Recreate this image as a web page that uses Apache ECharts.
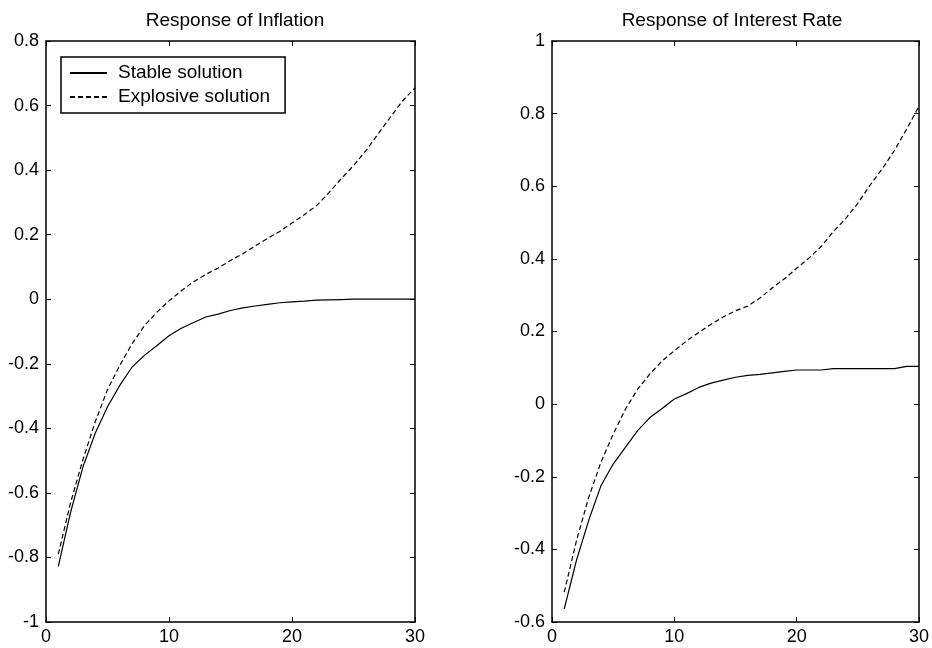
<!DOCTYPE html>
<html>
<head>
<meta charset="utf-8">
<script src="https://cdn.jsdelivr.net/npm/echarts@6/dist/echarts.min.js"></script>
<style>
  html, body { margin: 0; padding: 0; background: #fff; }
  #chart { width: 932px; height: 648px; }
</style>
</head>
<body>
<div id="chart"></div>
<script>
// periods after the shock
var periods = [1, 2, 3, 4, 5, 6, 7, 8, 9, 10, 11, 12, 13, 14, 15,
  16, 17, 18, 19, 20, 21, 22, 23, 24, 25, 26, 27, 28, 29, 30];

// response of inflation
var inflStable = [-0.828, -0.66, -0.52, -0.415, -0.333, -0.267, -0.21, -0.174, -0.144, -0.113,
  -0.09, -0.072, -0.055, -0.046, -0.035, -0.027, -0.021, -0.016, -0.011, -0.008,
  -0.006, -0.003, -0.002, -0.001, 0, 0, 0, 0, 0, 0];
var inflExplosive = [-0.79, -0.63, -0.497, -0.38, -0.28, -0.205, -0.138, -0.082, -0.041, -0.005,
  0.026, 0.054, 0.077, 0.097, 0.12, 0.141, 0.165, 0.188, 0.21, 0.236,
  0.262, 0.29, 0.33, 0.373, 0.414, 0.46, 0.512, 0.564, 0.615, 0.655];

// response of interest rate
var rateStable = [-0.564, -0.43, -0.32, -0.225, -0.165, -0.119, -0.073, -0.037, -0.012, 0.014,
  0.029, 0.046, 0.058, 0.066, 0.074, 0.079, 0.082, 0.086, 0.09, 0.094,
  0.094, 0.094, 0.098, 0.098, 0.098, 0.098, 0.098, 0.098, 0.104, 0.104];
var rateExplosive = [-0.518, -0.376, -0.257, -0.16, -0.083, -0.014, 0.041, 0.083, 0.119, 0.147,
  0.174, 0.197, 0.22, 0.24, 0.257, 0.27, 0.292, 0.32, 0.345, 0.374,
  0.402, 0.434, 0.475, 0.511, 0.553, 0.603, 0.648, 0.699, 0.758, 0.82];

var titles = ["Response of Inflation", "Response of Interest Rate"];
var xTicks = [0, 10, 20, 30];

var FONT = "Liberation Sans, Arial, sans-serif";

function pairs(ys) {
  return periods.map(function (t, i) { return [t, ys[i]]; });
}

function xAx(grid, pos) {
  return {
    type: "value", gridIndex: grid, position: pos,
    min: xTicks[0], max: xTicks[xTicks.length - 1], interval: 10,
    axisLine: { show: true, onZero: false, lineStyle: { color: "#000", width: 1.5 } },
    axisTick: { show: true, inside: true, length: 5, lineStyle: { color: "#000" } },
    axisLabel: { show: pos === "bottom", color: "#000", fontSize: 18, fontFamily: FONT, margin: 6 },
    splitLine: { show: false }
  };
}

function yAx(grid, pos, min, max) {
  return {
    type: "value", gridIndex: grid, position: pos,
    min: min, max: max, interval: 0.2,
    axisLine: { show: true, onZero: false, lineStyle: { color: "#000", width: 1.5 } },
    axisTick: { show: true, inside: true, length: 5, lineStyle: { color: "#000" } },
    axisLabel: { show: pos === "left", color: "#000", fontSize: 18, fontFamily: FONT, margin: 7 },
    splitLine: { show: false }
  };
}

function line(name, xi, yi, ys, dashed) {
  return {
    name: name, type: "line",
    xAxisIndex: xi, yAxisIndex: yi,
    data: pairs(ys),
    symbol: "none", animation: false, silent: true,
    lineStyle: { color: "#000", width: 1.2, type: dashed ? [5, 3] : "solid" },
    itemStyle: { color: "#000" }
  };
}

var myChart = echarts.init(document.getElementById("chart"));

var option = {
  backgroundColor: "#fff",
  title: [
    { text: titles[0], left: 230, top: 6, textAlign: "center",
      textStyle: { fontSize: 19, fontWeight: "normal", color: "#000", fontFamily: FONT } },
    { text: titles[1], left: 727, top: 6, textAlign: "center",
      textStyle: { fontSize: 19, fontWeight: "normal", color: "#000", fontFamily: FONT } }
  ],
  legend: {
    left: 61, top: 57, orient: "vertical",
    data: ["Stable solution", "Explosive solution"],
    selectedMode: false,
    backgroundColor: "#fff",
    borderColor: "#000", borderWidth: 1.5,
    padding: [6, 15, 6, 8],
    itemGap: 4, itemWidth: 37, itemHeight: 14,
    itemStyle: { opacity: 0 },
    lineStyle: { opacity: 1 },
    textStyle: { fontSize: 19, color: "#000", fontFamily: FONT, lineHeight: 20, padding: [0, 0, 0, 6] }
  },
  grid: [
    { left: 46, right: 517, top: 41, bottom: 26 },
    { left: 552, right: 11, top: 41, bottom: 26 }
  ],
  xAxis: [xAx(0, "bottom"), xAx(0, "top"), xAx(1, "bottom"), xAx(1, "top")],
  yAxis: [yAx(0, "left", -1, 0.8), yAx(0, "right", -1, 0.8),
          yAx(1, "left", -0.6, 1), yAx(1, "right", -0.6, 1)],
  series: [
    line("Stable solution", 0, 0, inflStable, false),
    line("Explosive solution", 0, 0, inflExplosive, true),
    line("Stable solution", 2, 2, rateStable, false),
    line("Explosive solution", 2, 2, rateExplosive, true)
  ]
};

myChart.setOption(option);
</script>
</body>
</html>
